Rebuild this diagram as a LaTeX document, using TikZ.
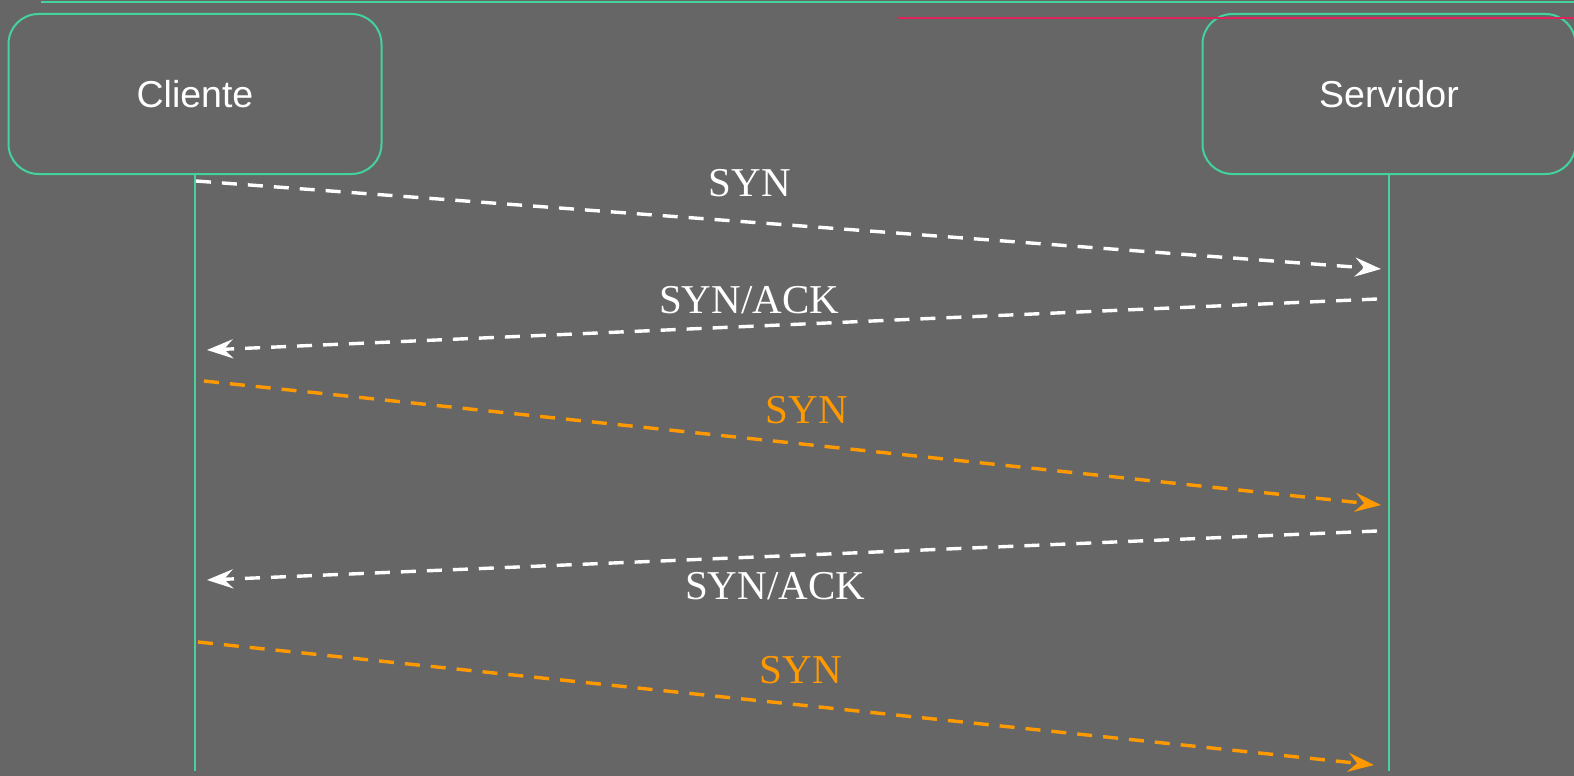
\documentclass[tikz,border=0pt]{standalone}
\usepackage{fontspec}
\setmainfont{Liberation Sans}
\newfontfamily\msgfont{Liberation Serif}
\usetikzlibrary{arrows.meta}
\definecolor{bggray}{RGB}{102,102,102}
\definecolor{lifegreen}{RGB}{68,210,157}
\definecolor{barred}{RGB}{222,36,92}
\definecolor{msgorange}{RGB}{255,153,0}
\tikzset{
  x=1pt, y=-1pt,
  actor/.style={draw=lifegreen, line width=2pt, rounded corners=30pt,
    minimum width=373pt, minimum height=160pt, text=white,
    font=\fontsize{37.5}{45}\selectfont, inner sep=0pt},
  lifeline/.style={draw=lifegreen, line width=2pt},
  msg/.style={line width=3.4pt, dash pattern=on 15pt off 11pt,
    -{Stealth[length=26pt, width=19pt, inset=9pt]}},
  msglabel/.style={font=\msgfont\fontsize{41}{48}\selectfont, inner sep=0pt}
}
\begin{document}
\begin{tikzpicture}
  \fill[bggray] (0,0) rectangle (1574,776);
  \useasboundingbox (0,0) rectangle (1574,776);

  % header rules
  \draw[lifegreen, line width=2pt] (41,2) -- (1574,2);

  % participants
  \node[actor] (cli) at (195,94) {Cliente};
  \node[actor] (srv) at (1389,94) {Servidor};
  \draw[barred, line width=2pt] (898,18) -- (1574,18);

  % lifelines
  \coordinate (cliend) at (cli.south |- 0,771);
  \coordinate (srvend) at (srv.south |- 0,771);
  \draw[lifeline] (cli.south) -- (cliend);
  \draw[lifeline] (srv.south) -- (srvend);

  % message anchor points
  \coordinate (a1) at (196,181);  \coordinate (b1) at (1381,269);
  \coordinate (a2) at (1377,299); \coordinate (b2) at (207,350);
  \coordinate (a3) at (204,381);  \coordinate (b3) at (1381,505);
  \coordinate (a4) at (1377,531); \coordinate (b4) at (207,580);
  \coordinate (a5) at (198,642);  \coordinate (b5) at (1374,765);

  % messages
  \draw[msg, white] (a1) -- (b1);
  \draw[msg, white] (a2) -- (b2);
  \draw[msg, msgorange] (a3) -- (b3);
  \draw[msg, white] (a4) -- (b4);
  \draw[msg, msgorange] (a5) -- (b5);

  % message labels
  \node[msglabel, text=white] (l1) at (750,183) {SYN};
  \node[msglabel, text=white] (l2) at (749,300) {SYN/ACK};
  \node[msglabel, text=msgorange] (l3) at (807,410) {SYN};
  \node[msglabel, text=white] (l4) at (775,586) {SYN/ACK};
  \node[msglabel, text=msgorange] (l5) at (801,670) {SYN};
\end{tikzpicture}
\end{document}
